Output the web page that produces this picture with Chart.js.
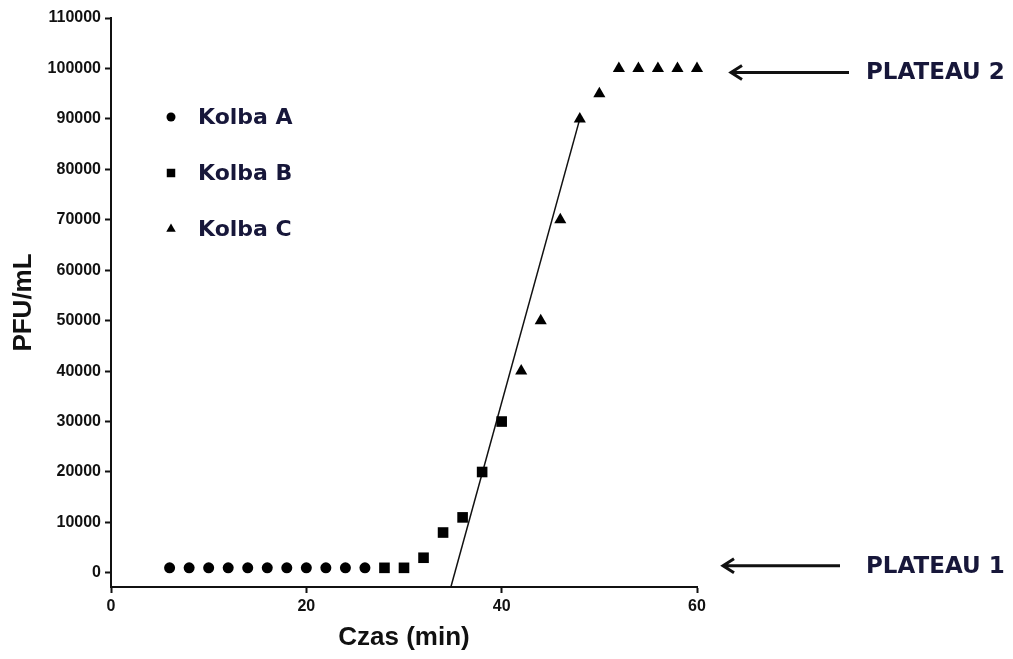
<!DOCTYPE html>
<html>
<head>
<meta charset="utf-8">
<script src="https://cdn.jsdelivr.net/npm/chart.js@4/dist/chart.umd.min.js"></script>
<style>
  html, body { margin: 0; padding: 0; background: #fff; }
  #wrap { width: 1013px; height: 659px; position: relative; }
</style>
</head>
<body>
<div id="wrap"><canvas id="c"></canvas></div>
<script>
// czas (min) i PFU/mL dla trzech kolb
const KOLBA_A_T = [6, 8, 10, 12, 14, 16, 18, 20, 22, 24, 26];
const KOLBA_A_PFU = [1000, 1000, 1000, 1000, 1000, 1000, 1000, 1000, 1000, 1000, 1000];
const KOLBA_B_T = [28, 30, 32, 34, 36, 38, 40];
const KOLBA_B_PFU = [1000, 1000, 3000, 8000, 11000, 20000, 30000];
const KOLBA_C_T = [42, 44, 46, 48, 50, 52, 54, 56, 58, 60];
const KOLBA_C_PFU = [40000, 50000, 70000, 90000, 95000, 100000, 100000, 100000, 100000, 100000];
// prosta fazy wzrostu
const FIT_T = [34.8, 48];
const FIT_PFU = [-2800, 90000];

const Y_TICKS = [0, 10000, 20000, 30000, 40000, 50000, 60000, 70000, 80000, 90000, 100000, 110000];
const X_TICKS = [0, 20, 40, 60];
const PLATEAU_LABELS = ["PLATEAU 2", "PLATEAU 1"];
const PLATEAU_LEVELS = [99200, 1400];

const pts = (xs, ys) => xs.map((x, i) => ({ x, y: ys[i] }));
const tickFont = { family: "'Liberation Sans'", size: 16, weight: "bold" };

// legenda w lewym górnym rogu wykresu
const legendPlugin = {
  id: "kolbyLegend",
  afterDraw(chart) {
    const ctx = chart.ctx;
    const rows = [
      { ds: 0, y: 117, r: 4.5 },
      { ds: 1, y: 173, r: 6 },
      { ds: 2, y: 229, r: 5.5 },
    ];
    ctx.save();
    ctx.font = "bold 22px 'DejaVu Sans'";
    ctx.textBaseline = "middle";
    rows.forEach((row) => {
      const d = chart.data.datasets[row.ds];
      ctx.fillStyle = "#000";
      ctx.strokeStyle = "#000";
      Chart.helpers.drawPoint(ctx, { pointStyle: d.pointStyle, radius: row.r, rotation: 0, borderWidth: 0 }, 171, row.y);
      ctx.fillStyle = "#17173a";
      ctx.fillText(d.label, 198, row.y + 1);
    });
    ctx.restore();
  },
};

// strzałki z opisem plateau po prawej stronie
const plateauPlugin = {
  id: "plateau",
  afterDraw(chart) {
    const ctx = chart.ctx;
    const y = chart.scales.y;
    const shafts = [[731, 849], [723, 840]];
    ctx.save();
    PLATEAU_LABELS.forEach((txt, i) => {
      const py = y.getPixelForValue(PLATEAU_LEVELS[i]);
      const [x0, x1] = shafts[i];
      ctx.strokeStyle = "#111";
      ctx.lineWidth = 3;
      ctx.beginPath();
      ctx.moveTo(x0 + 1, py);
      ctx.lineTo(x1, py);
      ctx.moveTo(x0 + 11, py - 7);
      ctx.lineTo(x0, py);
      ctx.lineTo(x0 + 11, py + 7);
      ctx.stroke();
      ctx.fillStyle = "#17173a";
      ctx.font = "bold 23px 'DejaVu Sans'";
      ctx.textBaseline = "middle";
      ctx.fillText(txt, 866, py + 1);
    });
    ctx.restore();
  },
};

new Chart(document.getElementById("c"), {
  type: "scatter",
  data: {
    datasets: [
      { label: "Kolba A", data: pts(KOLBA_A_T, KOLBA_A_PFU), pointStyle: "circle", pointRadius: 5.5,
        backgroundColor: "#000", borderColor: "#000", borderWidth: 0, clip: false },
      { label: "Kolba B", data: pts(KOLBA_B_T, KOLBA_B_PFU), pointStyle: "rect", pointRadius: 7.5,
        backgroundColor: "#000", borderColor: "#000", borderWidth: 0, clip: false },
      { label: "Kolba C", data: pts(KOLBA_C_T, KOLBA_C_PFU), pointStyle: "triangle", pointRadius: 7,
        backgroundColor: "#000", borderColor: "#000", borderWidth: 0, clip: false },
      { label: "fit", data: pts(FIT_T, FIT_PFU), showLine: true, pointRadius: 0,
        borderColor: "#111", borderWidth: 1.5, backgroundColor: "#111" },
    ],
  },
  options: {
    responsive: true, maintainAspectRatio: false, animation: false,
    layout: { padding: { top: 18, right: 316, left: 0, bottom: 0 } },
    plugins: { legend: { display: false }, tooltip: { enabled: false } },
    scales: {
      x: {
        type: "linear", min: 0, max: 60,
        afterBuildTicks: (s) => { s.ticks = X_TICKS.map((v) => ({ value: v })); },
        afterFit: (s) => { s.height = 72; },
        border: { display: true, color: "#111", width: 2 },
        grid: { drawOnChartArea: false, drawTicks: true, tickLength: 6, tickColor: "#111", tickWidth: 2 },
        ticks: { color: "#111", padding: 4, font: tickFont, callback: (v) => String(v) },
        title: { display: true, text: "Czas (min)", color: "#111", padding: { top: 0, bottom: 6 },
                 font: { family: "'Liberation Sans'", size: 26, weight: "bold" } },
      },
      y: {
        type: "linear", min: -2800, max: 110000,
        afterBuildTicks: (s) => { s.ticks = Y_TICKS.map((v) => ({ value: v })); },
        afterFit: (s) => { s.width = 111; },
        border: { display: true, color: "#111", width: 2 },
        grid: { drawOnChartArea: false, drawTicks: true, tickLength: 6, tickColor: "#111", tickWidth: 2 },
        ticks: { color: "#111", padding: 4, font: tickFont, callback: (v) => String(v) },
        title: { display: true, text: "PFU/mL", color: "#111", padding: { top: 8, bottom: 0 },
                 font: { family: "'Liberation Sans'", size: 26, weight: "bold" } },
      },
    },
  },
  plugins: [legendPlugin, plateauPlugin],
});
</script>
</body>
</html>
